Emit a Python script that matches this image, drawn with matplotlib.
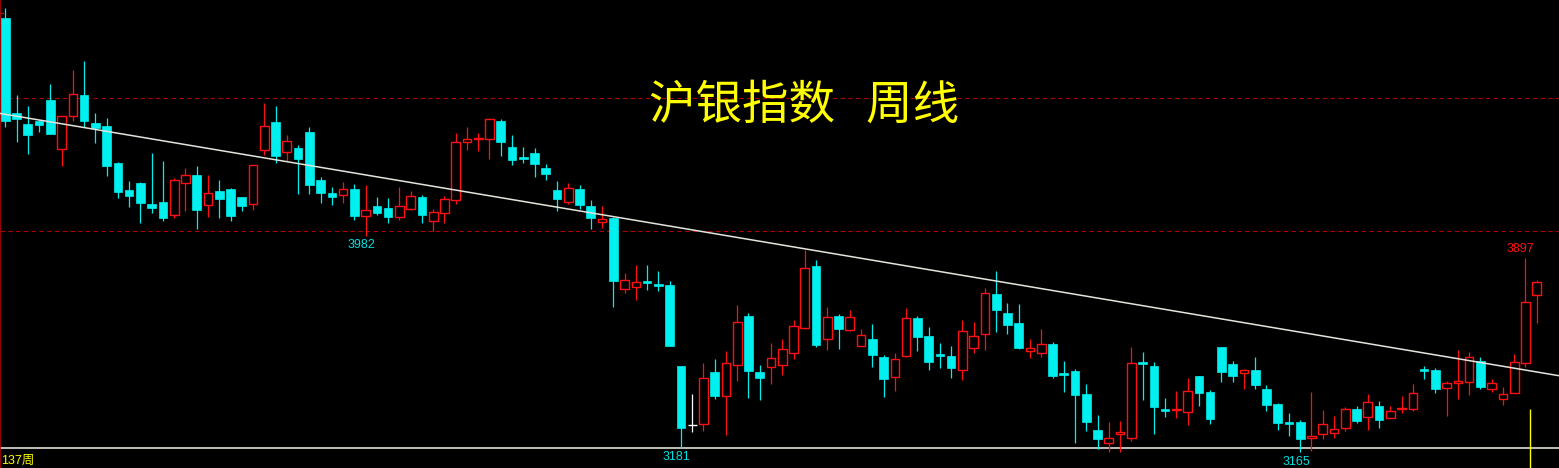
#沪银指数 周线 - weekly candlestick chart

#Importing the libraries
import numpy as np
import matplotlib
matplotlib.use('Agg')
import matplotlib.pyplot as plt

#Weekly OHLC values
opens = [4805, 4445, 4404, 4417, 4495, 4309, 4433, 4514, 4408, 4397,
         4257, 4155, 4181, 4102, 4109, 4059, 4180, 4211, 4097, 4151,
         4159, 4128, 4101, 4305, 4412, 4300, 4314, 4374, 4193, 4143,
         4135, 4159, 4058, 4094, 4087, 4054, 4084, 4128, 4039, 4067,
         4116, 4338, 4349, 4349, 4416, 4317, 4280, 4295, 4238, 4155,
         4111, 4159, 4094, 4035, 4050, 3782, 3787, 3810, 3801, 3796,
         3490, 3266, 3269, 3467, 3375, 3494, 3678, 3467, 3487, 3494,
         3540, 3634, 3868, 3590, 3678, 3624, 3564, 3592, 3524, 3447,
         3526, 3671, 3603, 3535, 3527, 3473, 3556, 3609, 3762, 3690,
         3652, 3546, 3537, 3573, 3463, 3471, 3384, 3248, 3197, 3234,
         3216, 3505, 3490, 3327, 3323, 3315, 3452, 3391, 3561, 3497,
         3462, 3474, 3403, 3346, 3278, 3278, 3218, 3231, 3235, 3254,
         3326, 3296, 3337, 3292, 3326, 3326, 3477, 3473, 3405, 3424,
         3428, 3507, 3404, 3364, 3389, 3502, 3759]
highs = [4843, 4513, 4472, 4419, 4555, 4433, 4608, 4642, 4446, 4427,
         4261, 4189, 4185, 4295, 4264, 4199, 4238, 4246, 4211, 4193,
         4163, 4130, 4248, 4484, 4472, 4363, 4325, 4393, 4204, 4166,
         4185, 4177, 4174, 4128, 4125, 4166, 4151, 4136, 4083, 4132,
         4370, 4393, 4370, 4427, 4423, 4363, 4317, 4314, 4253, 4189,
         4181, 4174, 4117, 4094, 4052, 3841, 3871, 3871, 3849, 3811,
         3490, 3384, 3501, 3516, 3546, 3720, 3690, 3493, 3576, 3592,
         3663, 3928, 3890, 3713, 3686, 3701, 3629, 3648, 3531, 3539,
         3709, 3678, 3637, 3576, 3565, 3663, 3656, 3784, 3849, 3728,
         3724, 3592, 3629, 3580, 3508, 3478, 3421, 3304, 3278, 3282,
         3561, 3542, 3505, 3369, 3395, 3444, 3452, 3399, 3561, 3508,
         3479, 3524, 3418, 3350, 3312, 3285, 3391, 3323, 3300, 3333,
         3338, 3384, 3357, 3337, 3376, 3421, 3490, 3481, 3432, 3550,
         3542, 3522, 3439, 3409, 3535, 3897, 3813]
lows = [4394, 4337, 4292, 4375, 4368, 4247, 4417, 4394, 4334, 4209,
        4126, 4092, 4031, 4069, 4039, 4050, 4077, 4008, 4054, 4050,
        4039, 4077, 4080, 4287, 4256, 4264, 4141, 4141, 4107, 4099,
        4107, 4042, 3982, 4061, 4031, 4042, 4080, 4031, 4001, 4031,
        4103, 4307, 4302, 4272, 4284, 4250, 4258, 4205, 4194, 4077,
        4103, 4084, 4008, 4012, 3714, 3767, 3740, 3778, 3774, 3566,
        3181, 3241, 3245, 3366, 3230, 3434, 3370, 3362, 3423, 3457,
        3517, 3630, 3562, 3551, 3555, 3621, 3564, 3487, 3373, 3396,
        3522, 3547, 3475, 3483, 3445, 3438, 3540, 3551, 3619, 3612,
        3555, 3518, 3525, 3445, 3392, 3200, 3245, 3177, 3166, 3166,
        3207, 3362, 3234, 3298, 3294, 3268, 3339, 3271, 3430, 3430,
        3404, 3404, 3321, 3249, 3226, 3165, 3169, 3215, 3218, 3243,
        3275, 3249, 3256, 3292, 3311, 3318, 3439, 3389, 3302, 3366,
        3379, 3404, 3392, 3343, 3386, 3487, 3653]
closes = [4417, 4422, 4364, 4402, 4368, 4433, 4516, 4417, 4390, 4247,
          4148, 4133, 4107, 4088, 4050, 4191, 4210, 4080, 4142, 4122,
          4058, 4095, 4248, 4397, 4284, 4340, 4272, 4174, 4145, 4129,
          4157, 4058, 4078, 4069, 4054, 4093, 4131, 4061, 4070, 4120,
          4335, 4346, 4352, 4422, 4337, 4269, 4273, 4254, 4216, 4122,
          4162, 4099, 4050, 4045, 3812, 3813, 3806, 3804, 3793, 3566,
          3256, 3266, 3444, 3377, 3501, 3656, 3472, 3445, 3520, 3554,
          3641, 3860, 3570, 3674, 3630, 3674, 3606, 3532, 3442, 3515,
          3670, 3600, 3506, 3528, 3483, 3621, 3602, 3764, 3702, 3646,
          3559, 3556, 3572, 3453, 3457, 3381, 3279, 3215, 3216, 3239,
          3500, 3498, 3336, 3321, 3327, 3395, 3389, 3290, 3468, 3453,
          3473, 3419, 3343, 3275, 3271, 3215, 3224, 3269, 3250, 3326,
          3283, 3352, 3286, 3318, 3330, 3386, 3469, 3404, 3424, 3432,
          3522, 3411, 3424, 3382, 3504, 3730, 3806]

#Reference levels
dash_levels = [4501, 3999]
base_level = 3178
trend_anchor = [(0, 4441), (136, 3467)]
title = '沪银指数   周线'
period_label = '137周'

opens = np.array(opens)
highs = np.array(highs)
lows = np.array(lows)
closes = np.array(closes)
x = np.arange(len(opens))

UP = '#ff1010'
DOWN = '#00f0f0'
FLAT = '#ffffff'

#Figure
fig = plt.figure(figsize=(15.59, 4.68), dpi=100, facecolor='black')
ax = fig.add_axes([0, 0, 1, 1])
ax.set_facecolor('black')
ax.set_xlim(-0.47, 137.98)
ax.set_ylim(3104, 4873)
ax.axis('off')

#Guide lines
for lvl in dash_levels:
    ax.axhline(lvl, color='#b00000', lw=0.8, linestyle=(0, (4, 3)), zorder=1)
ax.axhline(base_level, color='#e0e0d8', lw=1.2, zorder=1)
ax.axvline(-0.44, color='#b00000', lw=1.2, zorder=1)
ax.hlines(4823, -0.47, -0.12, color='#c00000', lw=0.8)

#Candles
w = 0.77
min_h = 6
up = closes > opens
down = closes < opens
flat = closes == opens

# down candles: full wick, filled body
ax.vlines(x[down], lows[down], highs[down], color=DOWN, lw=0.9, zorder=2)
body_h = np.maximum(opens[down] - closes[down], min_h)
ax.bar(x[down], body_h, bottom=closes[down], width=w, color=DOWN,
       edgecolor=DOWN, lw=0.5, zorder=3)

# up candles: hollow body, wick outside the body only
ax.vlines(x[up], closes[up], highs[up], color=UP, lw=0.9, zorder=2)
ax.vlines(x[up], lows[up], opens[up], color=UP, lw=0.9, zorder=2)
ax.bar(x[up], np.maximum(closes[up] - opens[up], min_h / 2), bottom=opens[up],
       width=w, facecolor='black', edgecolor=UP, lw=1.0, zorder=3)

# flat candles
ax.vlines(x[flat], lows[flat], highs[flat], color=FLAT, lw=0.9, zorder=2)
ax.hlines(opens[flat], x[flat] - w / 2, x[flat] + w / 2, color=FLAT, lw=1.0, zorder=3)

#Trend line
ax.axline(trend_anchor[0], trend_anchor[1], color='#e4e4dc', lw=1.1, zorder=4)

#Current week marker
ax.vlines(135.43, 3104, 3327, color='yellow', lw=1.0, zorder=5)

#Extreme labels
label_font = dict(fontsize=9, family='Liberation Sans', ha='center', va='center')
for i in [32, 60, 115]:
    ax.annotate(str(lows[i]), (x[i], lows[i]), xytext=(-3, -7), textcoords='offset points',
                color='#00e0e0', **label_font)
i_hi = int(np.argmax(highs[100:])) + 100
ax.annotate(str(highs[i_hi]), (x[i_hi], highs[i_hi]), xytext=(-3.5, 6.5), textcoords='offset points',
            color='#ff1010', **label_font)

#Title and period label
ax.text(0.5157, 1 - 105 / 468, title, transform=ax.transAxes, ha='center', va='center',
        color='#ffff00', fontsize=33.5, family='Noto Sans CJK SC')
ax.text(0.001, 0.016, period_label, transform=ax.transAxes, ha='left', va='center',
        color='#ffff00', fontsize=9, family=['Liberation Sans', 'Noto Sans CJK SC'])

plt.savefig('out.png', dpi=100, facecolor='black')
